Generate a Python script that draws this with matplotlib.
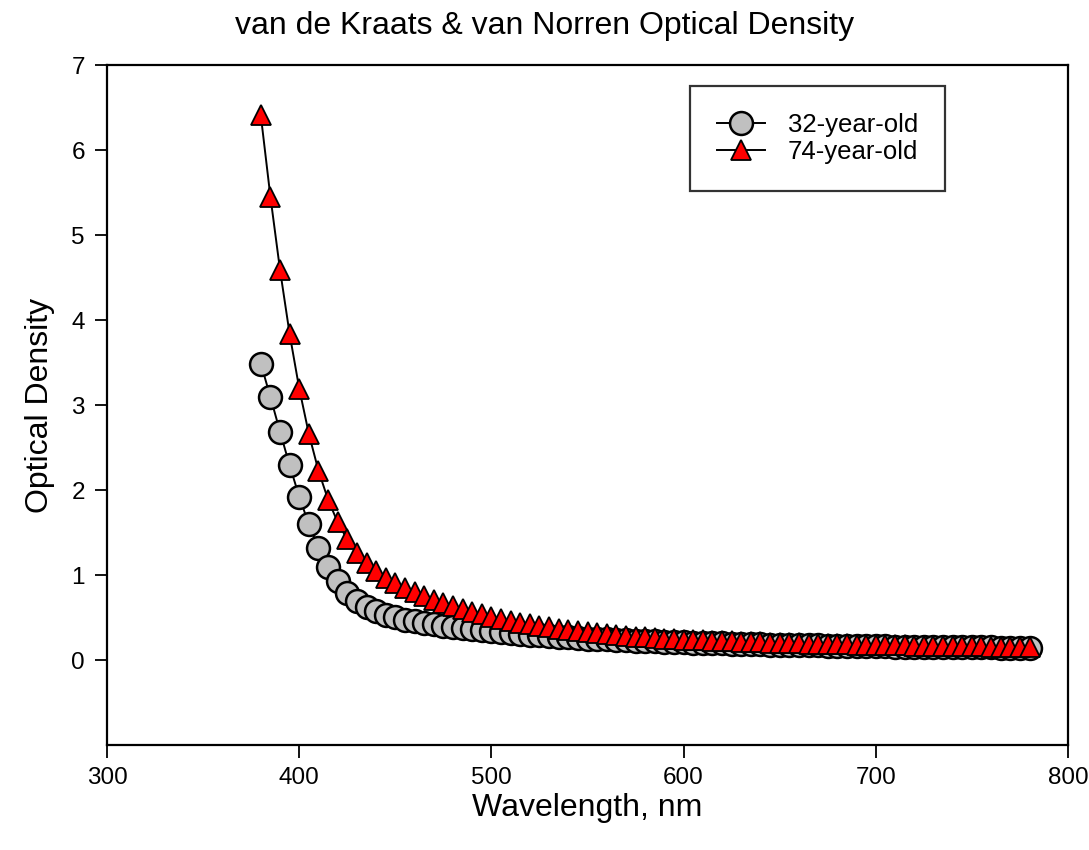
import matplotlib
matplotlib.use("Agg")
import matplotlib.pyplot as plt

plt.rcParams['font.family'] = ['Liberation Sans', 'DejaVu Sans']

# wavelength grid, nm (380..780 every 5 nm)
wavelength = list(range(380, 785, 5))

# optical density
od_32 = [3.488, 3.094, 2.687, 2.290, 1.922, 1.596, 1.321, 1.098, 0.924, 0.792,
         0.695, 0.624, 0.571, 0.532, 0.501, 0.476, 0.455, 0.436, 0.419, 0.403,
         0.388, 0.374, 0.361, 0.349, 0.337, 0.326, 0.316, 0.306, 0.297, 0.289,
         0.281, 0.273, 0.266, 0.259, 0.253, 0.247, 0.242, 0.236, 0.231, 0.227,
         0.222, 0.218, 0.214, 0.211, 0.207, 0.204, 0.201, 0.198, 0.195, 0.192,
         0.189, 0.187, 0.184, 0.182, 0.180, 0.178, 0.176, 0.174, 0.172, 0.170,
         0.168, 0.167, 0.165, 0.163, 0.162, 0.161, 0.159, 0.158, 0.157, 0.155,
         0.154, 0.153, 0.152, 0.151, 0.150, 0.149, 0.148, 0.147, 0.146, 0.145,
         0.144]
od_74 = [6.408, 5.451, 4.591, 3.836, 3.194, 2.661, 2.228, 1.887, 1.621, 1.418,
         1.261, 1.140, 1.045, 0.968, 0.904, 0.848, 0.798, 0.753, 0.711, 0.671,
         0.635, 0.601, 0.570, 0.540, 0.512, 0.486, 0.462, 0.440, 0.419, 0.400,
         0.383, 0.366, 0.351, 0.338, 0.325, 0.313, 0.302, 0.292, 0.283, 0.275,
         0.267, 0.260, 0.253, 0.247, 0.241, 0.236, 0.231, 0.226, 0.222, 0.218,
         0.214, 0.210, 0.207, 0.204, 0.201, 0.198, 0.195, 0.192, 0.190, 0.187,
         0.185, 0.183, 0.181, 0.179, 0.177, 0.175, 0.173, 0.171, 0.170, 0.168,
         0.167, 0.165, 0.164, 0.162, 0.161, 0.160, 0.158, 0.157, 0.156, 0.155,
         0.154]

x_ticks = [300, 400, 500, 600, 700, 800]
y_ticks = [0, 1, 2, 3, 4, 5, 6, 7]

fig = plt.figure(figsize=(10.89, 8.5), dpi=100)
ax = fig.add_axes([0.0983, 0.1235, 0.8824, 0.8])

ax.plot(wavelength, od_32, color='black', lw=1.4, marker='o', markersize=16.5,
        markerfacecolor='#c0c0c0', markeredgecolor='black', markeredgewidth=1.8,
        label='32-year-old', zorder=3)
ax.plot(wavelength, od_74, color='black', lw=1.4, marker='^', markersize=14,
        markerfacecolor='#ff0000', markeredgecolor='black', markeredgewidth=1.3,
        label='74-year-old', zorder=4)

ax.set_xlim(300, 800)
ax.set_ylim(-1, 7)
ax.set_xticks(x_ticks)
ax.set_yticks(y_ticks)
ax.tick_params(direction='out', length=9, width=1.3, labelsize=17.5, pad=7)
for s in ax.spines.values():
    s.set_linewidth(1.6)

ax.set_xlabel('Wavelength, nm', fontsize=23, labelpad=3)
ax.set_ylabel('Optical Density', fontsize=23, labelpad=12)
fig.suptitle('van de Kraats & van Norren Optical Density', fontsize=23, y=0.987)

leg = ax.legend(loc='upper right', bbox_to_anchor=(0.872, 0.969), borderaxespad=0,
                fontsize=18.5, frameon=True, fancybox=False, handlelength=1.85,
                borderpad=1.05, labelspacing=0.1, handletextpad=0.9)
leg.get_frame().set_edgecolor('black')
leg.get_frame().set_linewidth(1.6)

fig.savefig('out.png', dpi=100)
